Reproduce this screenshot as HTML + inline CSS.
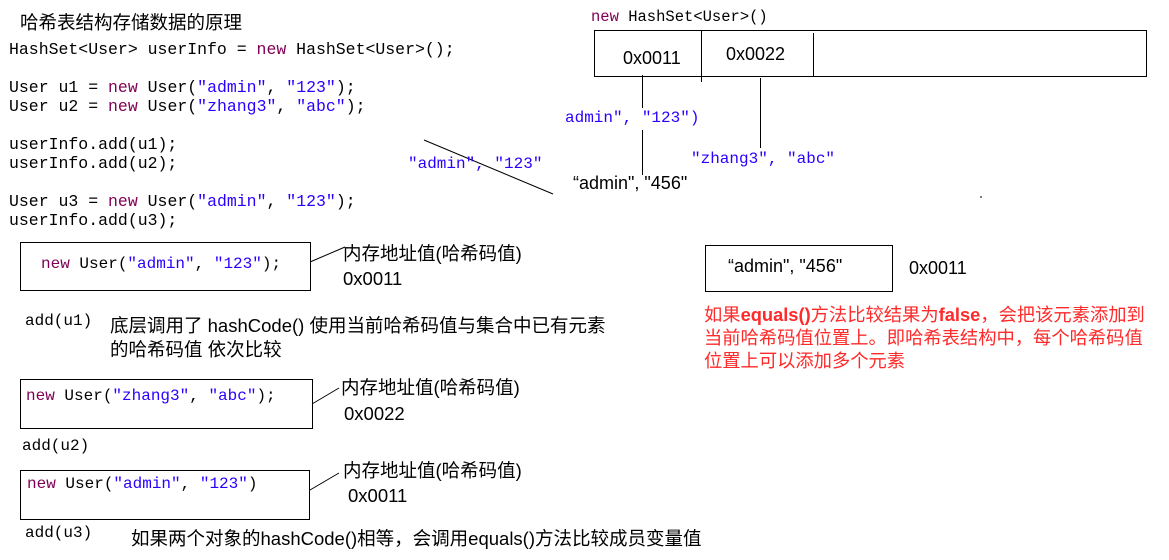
<!DOCTYPE html>
<html><head><meta charset="utf-8"><style>
body{margin:0;width:1169px;height:560px;background:#fff;position:relative;overflow:hidden;font-family:"Liberation Sans","Noto Sans CJK SC",sans-serif;color:#000}
.a{position:absolute;white-space:nowrap}
.m{font-family:"Liberation Mono","Noto Sans CJK SC",monospace;font-size:16px;line-height:19px}
.k{color:#7f0055}
.s{color:#2a00ff}
.b{position:absolute;border:1px solid #000}
.c{font-size:18.5px}
.r{color:#ff2a2a;font-size:18.3px;line-height:23px}
</style></head><body>
<div class="a c" style="left:20px;top:9px">哈希表结构存储数据的原理</div>
<div class="a m" style="left:9px;top:40px;font-size:16.5px">HashSet&lt;User&gt; userInfo = <span class="k">new</span> HashSet&lt;User&gt;();<br><br>User u1 = <span class="k">new</span> User(<span class="s">"admin"</span>, <span class="s">"123"</span>);<br>User u2 = <span class="k">new</span> User(<span class="s">"zhang3"</span>, <span class="s">"abc"</span>);<br><br>userInfo.add(u1);<br>userInfo.add(u2);<br><br>User u3 = <span class="k">new</span> User(<span class="s">"admin"</span>, <span class="s">"123"</span>);<br>userInfo.add(u3);</div>

<div class="a m" style="left:591px;top:8px;font-size:15.5px"><span class="k">new</span> HashSet&lt;User&gt;()</div>
<div class="b" style="left:594px;top:30px;width:551px;height:45px"></div>
<svg class="a" style="left:0;top:0" width="1169" height="560">
<g stroke="#000" stroke-width="1">
<line x1="701.5" y1="30" x2="701.5" y2="82"/>
<line x1="813.5" y1="33" x2="813.5" y2="76"/>
<line x1="642.5" y1="75" x2="642.5" y2="108"/>
<line x1="642.5" y1="130" x2="642.5" y2="175"/>
<line x1="760.5" y1="78" x2="760.5" y2="148"/>
<line x1="424" y1="140" x2="553" y2="194"/>
<line x1="310" y1="262" x2="345" y2="247"/>
<line x1="312" y1="404" x2="339" y2="388"/>
<line x1="310" y1="490" x2="339" y2="473"/>
<line x1="981" y1="196" x2="981" y2="198"/>
</g></svg>
<div class="a" style="left:623px;top:48px;font-size:18px">0x0011</div>
<div class="a" style="left:726px;top:44px;font-size:18px">0x0022</div>
<div class="a m s" style="left:565px;top:109px;font-size:16px">admin", "123")</div>
<div class="a m s" style="left:408px;top:155px;font-size:16px">"admin", "123"</div>
<div class="a m s" style="left:691px;top:150px;font-size:16px">"zhang3", "abc"</div>
<div class="a" style="left:573px;top:173px;font-size:18px">“admin", "456"</div>

<div class="b" style="left:20px;top:242px;width:289px;height:47px"></div>
<div class="a m" style="left:41px;top:255px"><span class="k">new</span> User(<span class="s">"admin"</span>, <span class="s">"123"</span>);</div>
<div class="a c" style="left:343px;top:240px">内存地址值(哈希码值)</div>
<div class="a c" style="left:343px;top:268px">0x0011</div>
<div class="a m" style="left:25px;top:312px">add(u1)</div>
<div class="a c" style="left:110px;top:314px;line-height:24px">底层调用了 hashCode() 使用当前哈希码值与集合中已有元素<br>的哈希码值 依次比较</div>

<div class="b" style="left:20px;top:379px;width:291px;height:48px"></div>
<div class="a m" style="left:26px;top:387px"><span class="k">new</span> User(<span class="s">"zhang3"</span>, <span class="s">"abc"</span>);</div>
<div class="a c" style="left:341px;top:374px">内存地址值(哈希码值)</div>
<div class="a c" style="left:344px;top:403px">0x0022</div>
<div class="a m" style="left:22px;top:437px">add(u2)</div>

<div class="b" style="left:20px;top:470px;width:288px;height:48px"></div>
<div class="a m" style="left:27px;top:475px"><span class="k">new</span> User(<span class="s">"admin"</span>, <span class="s">"123"</span>)</div>
<div class="a c" style="left:343px;top:457px">内存地址值(哈希码值)</div>
<div class="a c" style="left:348px;top:485px">0x0011</div>
<div class="a m" style="left:25px;top:524px">add(u3)</div>
<div class="a c" style="left:131px;top:525px">如果两个对象的hashCode()相等，会调用equals()方法比较成员变量值</div>

<div class="b" style="left:705px;top:245px;width:186px;height:45px"></div>
<div class="a" style="left:728px;top:256px;font-size:18px">“admin", "456"</div>
<div class="a" style="left:909px;top:258px;font-size:18px">0x0011</div>
<div class="a r" style="left:704px;top:303px">如果<b>equals()</b>方法比较结果为<b>false</b>，会把该元素添加到<br>当前哈希码值位置上。即哈希表结构中，每个哈希码值<br>位置上可以添加多个元素</div>
</body></html>
